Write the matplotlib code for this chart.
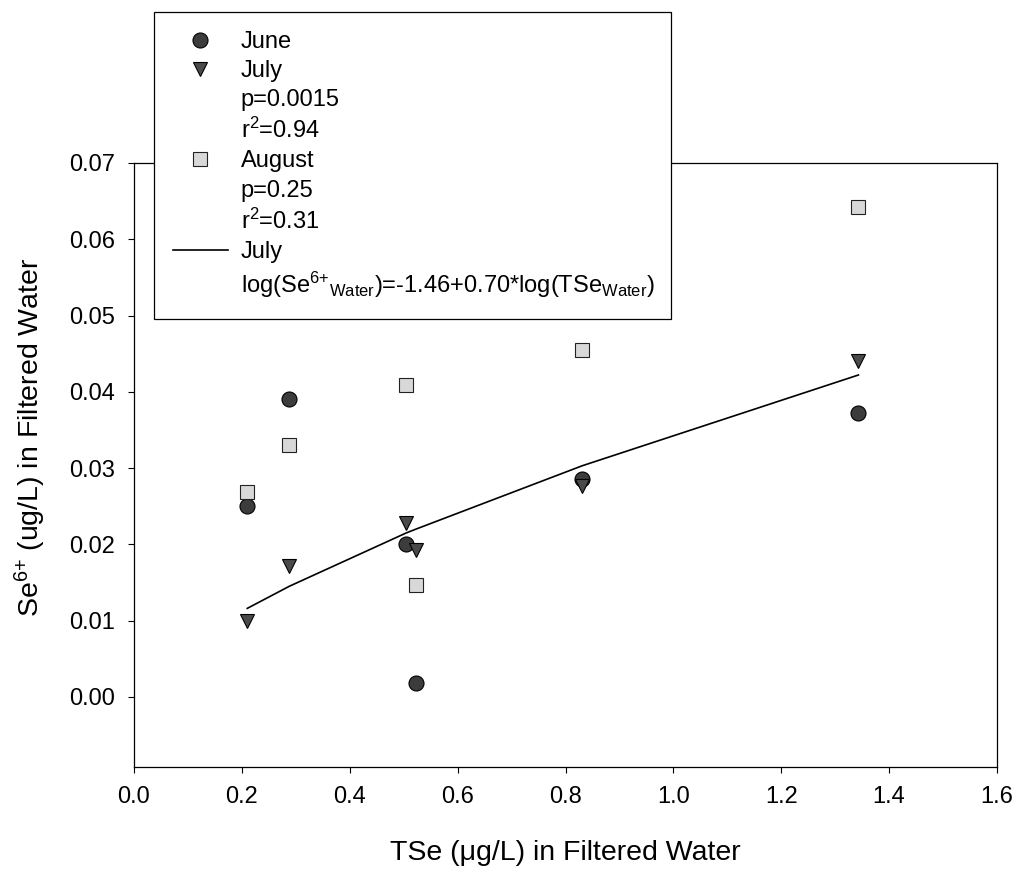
import numpy as np
import matplotlib
matplotlib.use('Agg')
import matplotlib.pyplot as plt
from matplotlib.lines import Line2D
from matplotlib.ticker import FormatStrFormatter

plt.rcParams['font.family'] = ['Liberation Sans', 'DejaVu Sans']
plt.rcParams['mathtext.default'] = 'regular'

# TSe in filtered water (x) and Se6+ per month (y)
tse = [0.210, 0.288, 0.505, 0.523, 0.831, 1.343]
june = [0.0250, 0.0391, 0.0201, 0.0018, 0.0286, 0.0372]
july = [0.0100, 0.0171, 0.0228, 0.0193, 0.0277, 0.0441]
august = [0.0269, 0.0330, 0.0409, 0.0146, 0.0455, 0.0642]
july_fit = [0.0116, 0.0145, 0.0215, 0.0220, 0.0303, 0.0422]

xticks = [0.0, 0.2, 0.4, 0.6, 0.8, 1.0, 1.2, 1.4, 1.6]
yticks = [0.00, 0.01, 0.02, 0.03, 0.04, 0.05, 0.06, 0.07]

legend_labels = ['June', 'July', 'p=0.0015', '$r^2$=0.94',
                 'August', 'p=0.25', '$r^2$=0.31',
                 'July', 'log(Se$^{6{+}}{}_{Water}$)=-1.46+0.70*log(TSe$_{Water}$)']

circ = dict(marker='o', ms=10.8, mfc='#3c3c3c', mec='black', mew=0.8, ls='none')
tri = dict(marker='v', ms=10.5, mfc='#4a4a4a', mec='black', mew=0.8, ls='none')
sq = dict(marker='s', ms=9.6, mfc='#d8d8d8', mec='#222222', mew=0.8, ls='none')

fig = plt.figure(figsize=(10.18, 8.72), dpi=100)
ax = fig.add_axes([134/1018, 1 - 767/872, 863/1018, 604/872])

ax.plot(tse, july_fit, color='black', lw=1.2, zorder=2)
ax.plot(tse, june, zorder=3, **circ)
ax.plot(tse, july, zorder=3, **tri)
ax.plot(tse, august, zorder=3, **sq)

ax.set_xlim(0, 1.6)
ax.set_ylim(-0.0092, 0.07)
ax.set_xticks(xticks)
ax.set_yticks(yticks)
ax.xaxis.set_major_formatter(FormatStrFormatter('%.1f'))
ax.yaxis.set_major_formatter(FormatStrFormatter('%.2f'))
ax.tick_params(direction='out', length=4.5, width=0.8, labelsize=17, pad=9)
for s in ax.spines.values():
    s.set_linewidth(0.9)

ax.set_xlabel('TSe (\u03bcg/L) in Filtered Water', fontsize=20.5)
ax.set_ylabel('Se$^{6{+}}$ (ug/L) in Filtered Water', fontsize=20.5)
ax.xaxis.set_label_coords(0.5, -0.121)
ax.yaxis.set_label_coords(-0.1, 0.546)

blank = Line2D([], [], ls='none')
handles = [Line2D([], [], **circ), Line2D([], [], **tri), blank, blank,
           Line2D([], [], **sq), blank, blank,
           Line2D([], [], color='black', lw=1.2), blank]
leg = ax.legend(handles, legend_labels, loc='upper left',
                bbox_to_anchor=(0.0232, 0.7417, 0.599, 0.5083), mode='expand',
                borderaxespad=0, fontsize=17, frameon=True, fancybox=False,
                edgecolor='black', framealpha=1, handlelength=2.33,
                handletextpad=0.55, labelspacing=0.3, borderpad=0.8)
leg.get_frame().set_linewidth(0.9)

fig.savefig('out.png', dpi=100)
